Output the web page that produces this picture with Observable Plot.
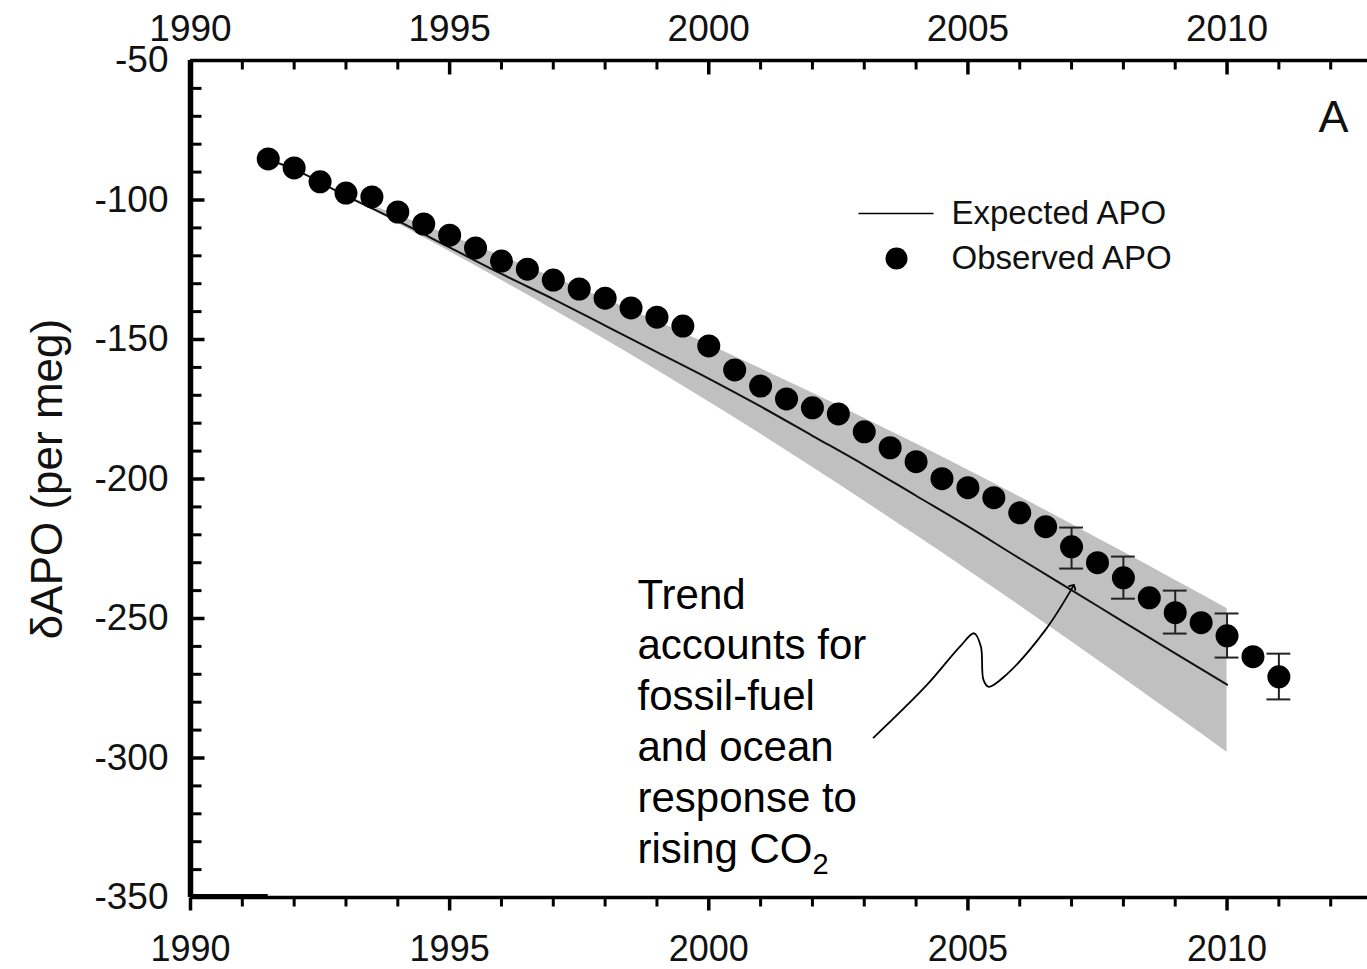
<!DOCTYPE html>
<html><head><meta charset="utf-8">
<script src="https://cdn.jsdelivr.net/npm/d3@7"></script>
<script src="https://cdn.jsdelivr.net/npm/@observablehq/plot@0.6"></script>
<style>body{margin:0;background:#fff;} svg{display:block}</style>
</head><body><div id="chart"></div>
<script>
// ---- data ----
const obsYears = [1991.5,1992,1992.5,1993,1993.5,1994,1994.5,1995,1995.5,1996,1996.5,1997,1997.5,1998,1998.5,1999,1999.5,2000,2000.5,2001,2001.5,2002,2002.5,2003,2003.5,2004,2004.5,2005,2005.5,2006,2006.5,2007,2007.5,2008,2008.5,2009,2009.5,2010,2010.5,2011];
const obsValues = [-85.3,-88.5,-93.5,-97.5,-98.9,-104.3,-108.6,-112.6,-117.2,-121.9,-124.8,-128.7,-131.9,-135.2,-138.7,-142.0,-145.2,-152.3,-160.9,-166.7,-171.3,-174.5,-176.7,-183.1,-188.8,-193.8,-199.9,-203.1,-206.7,-212.1,-217.1,-224.3,-230.0,-235.4,-242.6,-247.9,-251.5,-256.2,-263.7,-270.9];
const errYears = [2007,2008,2009,2010,2011];
const errHigh = [-217.4,-227.8,-240.0,-248.2,-262.6];
const errLow = [-232.1,-242.9,-255.4,-264.0,-279.0];
const expYears = [1991.5,1992,1993,1994,1995,1996,1997,1998,1999,2000,2001,2002,2003,2004,2005,2006,2007,2008,2009,2010];
const expValues = [-85.5,-89,-98.5,-107.5,-117,-126.5,-135.5,-145,-154.5,-164,-174,-184.5,-195,-206,-217,-228.5,-239.8,-251.2,-262.5,-273.7];
const bandYears = [1993,1994,1995,1996,1997,1998,1999,2000,2001,2002,2003,2004,2005,2006,2007,2008,2009,2010];
const bandUpper = [-98.5,-105.5,-112.7,-120.1,-127.7,-135.5,-143.5,-151.8,-160.4,-169.2,-178.2,-187.4,-196.8,-206.4,-216.2,-226.2,-236.3,-246.4];
const bandLower = [-98.5,-108.4,-118.5,-128.8,-139.3,-150.0,-161.0,-172.3,-183.9,-195.8,-207.9,-220.2,-232.7,-245.4,-258.3,-271.4,-284.6,-297.9];
const xTickLabels = [1990,1995,2000,2005,2010];
const yTickLabels = [-50,-100,-150,-200,-250,-300,-350];
const legendLabels = ["Expected APO","Observed APO"];
const yAxisTitle = "δAPO (per meg)";
const panelLabel = "A";
const annotationLines = ["Trend","accounts for","fossil-fuel","and ocean","response to","rising CO2"];
const arrowPath = [[2003.18,-292.7],[2004.2,-274],[2004.85,-260],[2005.12,-255.3],[2005.25,-260],[2005.3,-272],[2005.4,-274.5],[2005.75,-270],[2006.5,-254],[2007.03,-238.5]];

// ---- tables built from the arrays ----
const obs = obsYears.map((x,i)=>({x, y: obsValues[i]}));
const err = errYears.map((x,i)=>({x, hi: errHigh[i], lo: errLow[i]}));
const exp = expYears.map((x,i)=>({x, y: expValues[i]}));
const band = bandYears.map((x,i)=>({x, y1: bandLower[i], y2: bandUpper[i]}));
const arrow = arrowPath.map(([x,y])=>({x,y}));
const xMinor = d3.range(1991, 2013).filter(d => d % 5 !== 0);
const yMinor = d3.range(-340, -50, 10).filter(d => d % 50 !== 0);
const xMajor = xTickLabels;
const yMajor = yTickLabels.filter(d => d !== -50 && d !== -350);

const FONT = "'Liberation Sans', Arial, Helvetica, sans-serif";
const stick = {draw(context, l) { context.moveTo(0, 0); context.lineTo(0, -l); }};
const tickOpts = {anchor: "start", stroke: "black", shape: stick, strokeLinecap: "butt"};

const chart = Plot.plot({
  width: 1367, height: 969,
  marginLeft: 190, marginRight: 0, marginTop: 60, marginBottom: 72,
  x: {domain: [1990, 2012.71], axis: null},
  y: {domain: [-350, -50], axis: null},
  style: {fontFamily: FONT, background: "white", color: "black", overflow: "visible"},
  marks: [
    // band and expected line
    Plot.areaY(band, {x: "x", y1: "y1", y2: "y2", fill: "#c0c0c0", curve: "monotone-x"}),
    Plot.line(exp, {x: "x", y: "y", stroke: "#111", strokeWidth: 2, curve: "monotone-x"}),
    // error bars
    Plot.ruleX(err, {x: "x", y1: "lo", y2: "hi", stroke: "#222", strokeWidth: 2}),
    Plot.ruleY(err, {y: "hi", x1: d => d.x - 0.23, x2: d => d.x + 0.23, stroke: "#222", strokeWidth: 2}),
    Plot.ruleY(err, {y: "lo", x1: d => d.x - 0.23, x2: d => d.x + 0.23, stroke: "#222", strokeWidth: 2}),
    // observed
    Plot.dot(obs, {x: "x", y: "y", r: 11.5, fill: "black"}),
    // axes lines
    Plot.ruleX([1990], {stroke: "black", strokeWidth: 5.5}),
    Plot.ruleY([-50], {stroke: "black", strokeWidth: 3.5}),
    Plot.ruleY([-350], {stroke: "black", strokeWidth: 3.5}),
    Plot.ruleY([-350], {x1: 1990, x2: 1991.5, stroke: "black", strokeWidth: 3, dy: -2}),
    // top ticks (inward)
    Plot.vector(xMajor, {x: d => d, frameAnchor: "top", length: 14, rotate: 180, strokeWidth: 3.5, ...tickOpts}),
    Plot.vector(xMinor, {x: d => d, frameAnchor: "top", length: 9, rotate: 180, strokeWidth: 3, ...tickOpts}),
    // bottom ticks (outward)
    Plot.vector(xMajor, {x: d => d, frameAnchor: "bottom", length: 13, rotate: 180, strokeWidth: 3.5, ...tickOpts}),
    Plot.vector(xMinor, {x: d => d, frameAnchor: "bottom", length: 9, rotate: 180, strokeWidth: 3, ...tickOpts}),
    // left ticks (inward)
    Plot.vector(yMajor, {y: d => d, frameAnchor: "left", length: 14, rotate: 90, strokeWidth: 3.5, ...tickOpts}),
    Plot.vector(yMinor, {y: d => d, frameAnchor: "left", length: 11, rotate: 90, strokeWidth: 3, ...tickOpts}),
    // tick labels
    Plot.text(xTickLabels, {x: d => d, text: d => String(d), frameAnchor: "top", dy: -20, lineAnchor: "bottom", textAnchor: "middle", fontSize: 37, fill: "#111"}),
    Plot.text(xTickLabels, {x: d => d, text: d => String(d), frameAnchor: "bottom", dy: 38, lineAnchor: "top", textAnchor: "middle", fontSize: 36, fill: "#111"}),
    Plot.text(yTickLabels, {y: d => d, text: d => String(d), frameAnchor: "left", dx: -22, textAnchor: "end", lineAnchor: "middle", fontSize: 37, fill: "#111"}),
    // axis title
    Plot.text([yAxisTitle], {frameAnchor: "left", dx: -143, rotate: -90, textAnchor: "middle", lineAnchor: "middle", fontSize: 44, fill: "#111"}),
    // panel label
    Plot.text([panelLabel], {frameAnchor: "top-left", dx: 1143, dy: 57, textAnchor: "middle", lineAnchor: "middle", fontSize: 45, fill: "#111"}),
    // legend
    Plot.vector([0], {frameAnchor: "top-left", dx: 668, dy: 153, length: 75, rotate: 90, strokeWidth: 1.5, ...tickOpts}),
    Plot.dot([0], {frameAnchor: "top-left", dx: 706, dy: 198, r: 11, fill: "black"}),
    Plot.text([legendLabels[0]], {frameAnchor: "top-left", dx: 761, dy: 153, textAnchor: "start", lineAnchor: "middle", fontSize: 33, fill: "#111"}),
    Plot.text([legendLabels[1]], {frameAnchor: "top-left", dx: 761, dy: 198, textAnchor: "start", lineAnchor: "middle", fontSize: 33, fill: "#111"}),
    // annotation
    Plot.text([annotationLines.join("\n")], {frameAnchor: "top-left", dx: 447, dy: 512, textAnchor: "start", lineAnchor: "top", lineHeight: 1.21, fontSize: 42, fill: "black"}),
    Plot.line(arrow, {x: "x", y: "y", curve: "catmull-rom", stroke: "black", strokeWidth: 1.8, markerEnd: "arrow"})
  ]
});
document.getElementById("chart").appendChild(chart);

// subscript for CO2
chart.querySelectorAll("tspan").forEach(t => {
  if (t.textContent === "rising CO2") {
    t.textContent = "rising CO";
    const s = document.createElementNS("http://www.w3.org/2000/svg", "tspan");
    s.setAttribute("font-size", "29");
    s.setAttribute("dy", "11");
    s.textContent = "2";
    t.appendChild(s);
  }
});
</script>
</body></html>
